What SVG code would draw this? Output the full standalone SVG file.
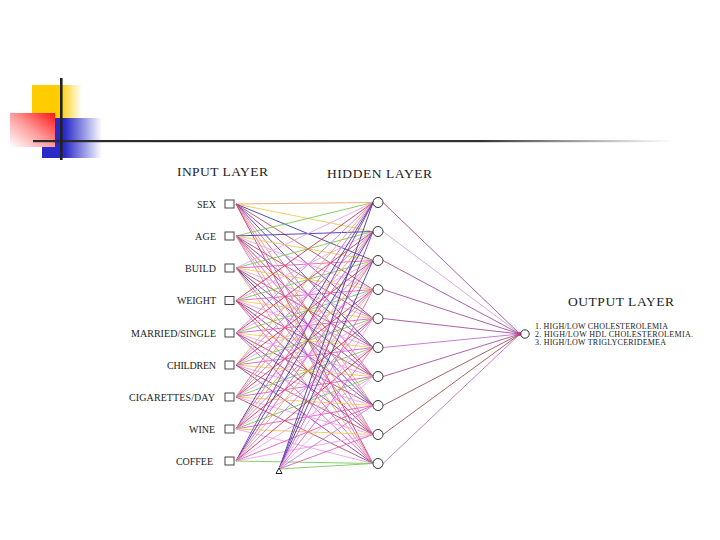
<svg xmlns="http://www.w3.org/2000/svg" width="720" height="540" viewBox="0 0 720 540">
<defs>
<linearGradient id="gy" x1="0" y1="0" x2="1" y2="0"><stop offset="0" stop-color="#ffcc00"/><stop offset="0.55" stop-color="#ffcc00"/><stop offset="1" stop-color="#ffcc00" stop-opacity="0"/></linearGradient>
<linearGradient id="gb" x1="0" y1="0" x2="1" y2="0"><stop offset="0" stop-color="#2a2ac8"/><stop offset="0.38" stop-color="#2a2ac8"/><stop offset="1" stop-color="#2a2ac8" stop-opacity="0"/></linearGradient>
<linearGradient id="gr" x1="1" y1="0" x2="0" y2="1"><stop offset="0" stop-color="#ff1515"/><stop offset="0.5" stop-color="#ff9a9a"/><stop offset="1" stop-color="#ffffff"/></linearGradient>
<linearGradient id="gh" x1="0" y1="0" x2="1" y2="0"><stop offset="0" stop-color="#2a2a2a"/><stop offset="0.7" stop-color="#333"/><stop offset="1" stop-color="#555" stop-opacity="0"/></linearGradient>
<style>
.t{font-family:"Liberation Serif","Times New Roman",serif;fill:#222}
.ti{font-size:13.5px}
.lb{font-size:10px;text-anchor:end}
.ol{font-size:8px}
.box{fill:#fff;stroke:#444;stroke-width:1}
.hn{fill:#fff;stroke:#333;stroke-width:1}
#connectors line{stroke-width:0.9;fill:none}
.k0{stroke:#e45cc4}.k1{stroke:#e8a868}.k2{stroke:#eea0ee}.k3{stroke:#d83050}
.k4{stroke:#8a3aa8}.k5{stroke:#78c858}.k6{stroke:#e45cc4}.k7{stroke:#f0c850}
.k8{stroke:#c47ae8}.k9{stroke:#b05060}.k10{stroke:#eea0ee}.k11{stroke:#3a3aa8}
.o1{stroke:#a050a0}.o2{stroke:#d8a0d8}.o3{stroke:#a05050}.o4{stroke:#c070d0}
</style>
</defs>
<rect width="720" height="540" fill="#fff"/>
<g id="decoration">
<rect x="32" y="85" width="50" height="33" fill="url(#gy)"/>
<rect x="42" y="118" width="60" height="40" fill="url(#gb)"/>
<rect x="10" y="113" width="45" height="34" fill="url(#gr)"/>
<rect x="33" y="140" width="640" height="2.2" fill="url(#gh)"/>
<rect x="60" y="78" width="2.6" height="82" fill="#222"/>
</g>
<g id="connectors">
<line class="k1" x1="236" y1="204" x2="373" y2="202.5"/><line class="k7" x1="236" y1="204" x2="373" y2="231.5"/><line class="k11" x1="236" y1="204" x2="373" y2="260.5"/><line class="k9" x1="236" y1="204" x2="373" y2="289.5"/><line class="k4" x1="236" y1="204" x2="373" y2="318.5"/><line class="k11" x1="236" y1="204" x2="373" y2="347.5"/><line class="k6" x1="236" y1="204" x2="373" y2="376.5"/><line class="k1" x1="236" y1="204" x2="373" y2="405.5"/><line class="k8" x1="236" y1="204" x2="373" y2="434.5"/><line class="k3" x1="236" y1="204" x2="373" y2="463.5"/>
<line class="k5" x1="236" y1="236" x2="373" y2="202.5"/><line class="k11" x1="236" y1="236" x2="373" y2="231.5"/><line class="k7" x1="236" y1="236" x2="373" y2="260.5"/><line class="k2" x1="236" y1="236" x2="373" y2="289.5"/><line class="k9" x1="236" y1="236" x2="373" y2="318.5"/><line class="k4" x1="236" y1="236" x2="373" y2="347.5"/><line class="k3" x1="236" y1="236" x2="373" y2="376.5"/><line class="k6" x1="236" y1="236" x2="373" y2="405.5"/><line class="k1" x1="236" y1="236" x2="373" y2="434.5"/><line class="k8" x1="236" y1="236" x2="373" y2="463.5"/>
<line class="k10" x1="236" y1="268" x2="373" y2="202.5"/><line class="k5" x1="236" y1="268" x2="373" y2="231.5"/><line class="k0" x1="236" y1="268" x2="373" y2="260.5"/><line class="k7" x1="236" y1="268" x2="373" y2="289.5"/><line class="k2" x1="236" y1="268" x2="373" y2="318.5"/><line class="k9" x1="236" y1="268" x2="373" y2="347.5"/><line class="k4" x1="236" y1="268" x2="373" y2="376.5"/><line class="k11" x1="236" y1="268" x2="373" y2="405.5"/><line class="k6" x1="236" y1="268" x2="373" y2="434.5"/><line class="k1" x1="236" y1="268" x2="373" y2="463.5"/>
<line class="k3" x1="236" y1="300.5" x2="373" y2="202.5"/><line class="k10" x1="236" y1="300.5" x2="373" y2="231.5"/><line class="k5" x1="236" y1="300.5" x2="373" y2="260.5"/><line class="k0" x1="236" y1="300.5" x2="373" y2="289.5"/><line class="k7" x1="236" y1="300.5" x2="373" y2="318.5"/><line class="k2" x1="236" y1="300.5" x2="373" y2="347.5"/><line class="k9" x1="236" y1="300.5" x2="373" y2="376.5"/><line class="k4" x1="236" y1="300.5" x2="373" y2="405.5"/><line class="k3" x1="236" y1="300.5" x2="373" y2="434.5"/><line class="k6" x1="236" y1="300.5" x2="373" y2="463.5"/>
<line class="k8" x1="236" y1="333" x2="373" y2="202.5"/><line class="k3" x1="236" y1="333" x2="373" y2="231.5"/><line class="k10" x1="236" y1="333" x2="373" y2="260.5"/><line class="k5" x1="236" y1="333" x2="373" y2="289.5"/><line class="k0" x1="236" y1="333" x2="373" y2="318.5"/><line class="k7" x1="236" y1="333" x2="373" y2="347.5"/><line class="k2" x1="236" y1="333" x2="373" y2="376.5"/><line class="k9" x1="236" y1="333" x2="373" y2="405.5"/><line class="k4" x1="236" y1="333" x2="373" y2="434.5"/><line class="k6" x1="236" y1="333" x2="373" y2="463.5"/>
<line class="k1" x1="236" y1="365" x2="373" y2="202.5"/><line class="k8" x1="236" y1="365" x2="373" y2="231.5"/><line class="k3" x1="236" y1="365" x2="373" y2="260.5"/><line class="k10" x1="236" y1="365" x2="373" y2="289.5"/><line class="k5" x1="236" y1="365" x2="373" y2="318.5"/><line class="k0" x1="236" y1="365" x2="373" y2="347.5"/><line class="k7" x1="236" y1="365" x2="373" y2="376.5"/><line class="k2" x1="236" y1="365" x2="373" y2="405.5"/><line class="k9" x1="236" y1="365" x2="373" y2="434.5"/><line class="k4" x1="236" y1="365" x2="373" y2="463.5"/>
<line class="k6" x1="236" y1="397" x2="373" y2="202.5"/><line class="k1" x1="236" y1="397" x2="373" y2="231.5"/><line class="k8" x1="236" y1="397" x2="373" y2="260.5"/><line class="k3" x1="236" y1="397" x2="373" y2="289.5"/><line class="k10" x1="236" y1="397" x2="373" y2="318.5"/><line class="k5" x1="236" y1="397" x2="373" y2="347.5"/><line class="k0" x1="236" y1="397" x2="373" y2="376.5"/><line class="k7" x1="236" y1="397" x2="373" y2="405.5"/><line class="k2" x1="236" y1="397" x2="373" y2="434.5"/><line class="k9" x1="236" y1="397" x2="373" y2="463.5"/>
<line class="k11" x1="236" y1="429" x2="373" y2="202.5"/><line class="k6" x1="236" y1="429" x2="373" y2="231.5"/><line class="k1" x1="236" y1="429" x2="373" y2="260.5"/><line class="k8" x1="236" y1="429" x2="373" y2="289.5"/><line class="k3" x1="236" y1="429" x2="373" y2="318.5"/><line class="k10" x1="236" y1="429" x2="373" y2="347.5"/><line class="k5" x1="236" y1="429" x2="373" y2="376.5"/><line class="k0" x1="236" y1="429" x2="373" y2="405.5"/><line class="k7" x1="236" y1="429" x2="373" y2="434.5"/><line class="k2" x1="236" y1="429" x2="373" y2="463.5"/>
<line class="k4" x1="236" y1="461" x2="373" y2="202.5"/><line class="k11" x1="236" y1="461" x2="373" y2="231.5"/><line class="k6" x1="236" y1="461" x2="373" y2="260.5"/><line class="k1" x1="236" y1="461" x2="373" y2="289.5"/><line class="k8" x1="236" y1="461" x2="373" y2="318.5"/><line class="k3" x1="236" y1="461" x2="373" y2="347.5"/><line class="k10" x1="236" y1="461" x2="373" y2="376.5"/><line class="k0" x1="236" y1="461" x2="373" y2="405.5"/><line class="k2" x1="236" y1="461" x2="373" y2="434.5"/><line class="k5" x1="236" y1="461" x2="373" y2="463.5"/>
<line class="k11" x1="279" y1="469" x2="373" y2="202.5"/><line class="k4" x1="279" y1="469" x2="373" y2="231.5"/><line class="k11" x1="279" y1="469" x2="373" y2="260.5"/><line class="k0" x1="279" y1="469" x2="373" y2="289.5"/><line class="k2" x1="279" y1="469" x2="373" y2="318.5"/><line class="k0" x1="279" y1="469" x2="373" y2="347.5"/><line class="k10" x1="279" y1="469" x2="373" y2="376.5"/><line class="k8" x1="279" y1="469" x2="373" y2="405.5"/><line class="k0" x1="279" y1="469" x2="373" y2="434.5"/><line class="k5" x1="279" y1="469" x2="373" y2="463.5"/>
<line class="o1" x1="383" y1="202.5" x2="520" y2="334"/><line class="o2" x1="383" y1="231.5" x2="520" y2="334"/><line class="o1" x1="383" y1="260.5" x2="520" y2="334"/><line class="o1" x1="383" y1="289.5" x2="520" y2="334"/><line class="o1" x1="383" y1="318.5" x2="520" y2="334"/><line class="o4" x1="383" y1="347.5" x2="520" y2="334"/><line class="o1" x1="383" y1="376.5" x2="520" y2="334"/><line class="o3" x1="383" y1="405.5" x2="520" y2="334"/><line class="o3" x1="383" y1="434.5" x2="520" y2="334"/><line class="o4" x1="383" y1="463.5" x2="520" y2="334"/>
</g>
<g id="input-layer">
<text class="t ti" x="177" y="176" textLength="91">INPUT LAYER</text>
<g id="in-sex"><rect class="box" x="225" y="200" width="9" height="8"/><text class="t lb" x="216" y="207.5" textLength="19">SEX</text></g>
<g id="in-age"><rect class="box" x="225" y="232" width="9" height="8"/><text class="t lb" x="216" y="239.5" textLength="21">AGE</text></g>
<g id="in-build"><rect class="box" x="225" y="264" width="9" height="8"/><text class="t lb" x="216" y="271.5" textLength="31">BUILD</text></g>
<g id="in-weight"><rect class="box" x="225" y="296.5" width="9" height="8"/><text class="t lb" x="216" y="304" textLength="39">WEIGHT</text></g>
<g id="in-married"><rect class="box" x="225" y="329" width="9" height="8"/><text class="t lb" x="216" y="336.5" textLength="85">MARRIED/SINGLE</text></g>
<g id="in-children"><rect class="box" x="225" y="361" width="9" height="8"/><text class="t lb" x="216" y="368.5" textLength="49">CHILDREN</text></g>
<g id="in-cig"><rect class="box" x="225" y="393" width="9" height="8"/><text class="t lb" x="215" y="400.5" textLength="86">CIGARETTES/DAY</text></g>
<g id="in-wine"><rect class="box" x="225" y="425" width="9" height="8"/><text class="t lb" x="215" y="432.5" textLength="26">WINE</text></g>
<g id="in-coffee"><rect class="box" x="225" y="457" width="9" height="8"/><text class="t lb" x="213" y="464.5" textLength="37">COFFEE</text></g>
<g id="bias"><polygon points="276,473.5 282,473.5 279,468" fill="#fff" stroke="#222" stroke-width="1"/></g>
</g>
<g id="hidden-layer">
<text class="t ti" x="327" y="177.5" textLength="105">HIDDEN LAYER</text>
<g id="h1"><circle class="hn" cx="378" cy="202.5" r="5"/></g>
<g id="h2"><circle class="hn" cx="378" cy="231.5" r="5"/></g>
<g id="h3"><circle class="hn" cx="378" cy="260.5" r="5"/></g>
<g id="h4"><circle class="hn" cx="378" cy="289.5" r="5"/></g>
<g id="h5"><circle class="hn" cx="378" cy="318.5" r="5"/></g>
<g id="h6"><circle class="hn" cx="378" cy="347.5" r="5"/></g>
<g id="h7"><circle class="hn" cx="378" cy="376.5" r="5"/></g>
<g id="h8"><circle class="hn" cx="378" cy="405.5" r="5"/></g>
<g id="h9"><circle class="hn" cx="378" cy="434.5" r="5"/></g>
<g id="h10"><circle class="hn" cx="378" cy="463.5" r="5"/></g>
</g>
<g id="output-layer">
<text class="t ti" x="568" y="306" textLength="106">OUTPUT LAYER</text>
<circle cx="519" cy="334" r="2.3" fill="#e0309a"/>
<circle class="hn" cx="525" cy="334" r="4.2"/>
<text class="t ol" x="535" y="328.5" textLength="133">1. HIGH/LOW CHOLESTEROLEMIA</text>
<text class="t ol" x="535" y="337" textLength="158">2. HIGH/LOW HDL CHOLESTEROLEMIA.</text>
<text class="t ol" x="535" y="345" textLength="131">3. HIGH/LOW TRIGLYCERIDEMEA</text>
</g>
</svg>
